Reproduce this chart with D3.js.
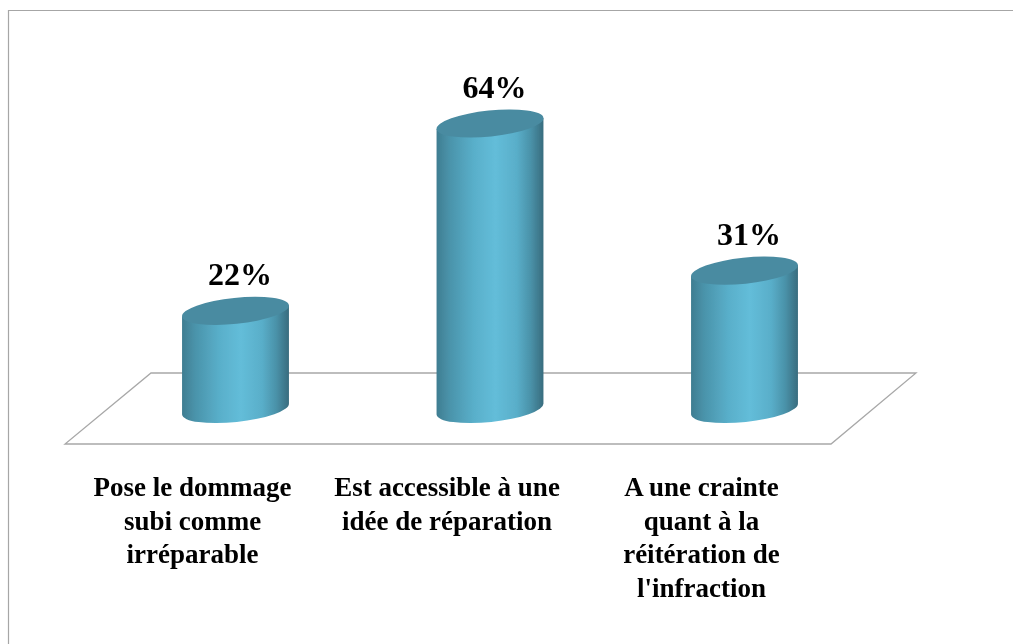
<!DOCTYPE html>
<html><head><meta charset="utf-8">
<script src="https://cdn.jsdelivr.net/npm/d3@7"></script>
<style>html,body{margin:0;background:#fff;overflow:hidden}svg{display:block}text{font-family:"Liberation Serif",serif;font-weight:bold;fill:#050505}</style>
</head><body><svg id="c" width="1013" height="644"></svg>
<script>
const categories = [
  ["Pose le dommage","subi comme","irréparable"],
  ["Est accessible à une","idée de réparation"],
  ["A une crainte","quant à la","réitération de","l'infraction"]
];
const values = [22, 64, 31];
const valueLabels = ["22%", "64%", "31%"];

const W = 1013, H = 644;
const svg = d3.select("#c");
const x = d3.scaleBand().domain(d3.range(values.length)).range([108.25, 871.75]).paddingInner(0.58).paddingOuter(0.29);
const y = d3.scaleLinear().domain([0, 64]).range([409, 123.5]);
const half = x.bandwidth() / 2, ry = 13, rot = -6;
const rad = -rot * Math.PI / 180;
const rxE = half / Math.cos(rad);
const dyTilt = half * Math.tan(rad);

const defs = svg.append("defs");
const grad = defs.append("linearGradient").attr("id", "body");
[[0,"#3f7d91"],[0.12,"#4a93aa"],[0.35,"#59afca"],[0.55,"#63bdd9"],[0.75,"#59aec9"],[0.88,"#4a92a9"],[1,"#386c7e"]]
  .forEach(([o,c]) => grad.append("stop").attr("offset", o).attr("stop-color", c));
defs.append("filter").attr("id", "soft").append("feGaussianBlur").attr("stdDeviation", 0.5);

// frame
svg.append("path").attr("d", `M8.5,${H}V10.5H${W}`).attr("fill", "none").attr("stroke", "#a6a6a6").attr("stroke-width", 1.2);

const g = svg.append("g").attr("filter", "url(#soft)");

// floor
const fl = d3.path();
fl.moveTo(151, 373); fl.lineTo(916, 373); fl.lineTo(831, 444); fl.lineTo(65, 444); fl.closePath();
g.append("path").attr("d", fl.toString()).attr("fill", "#fff").attr("stroke", "#a8a8a8").attr("stroke-width", 1.3);

// cylinders
const bars = g.selectAll("g.bar").data(values).join("g").attr("class", "bar");
bars.append("path")
  .attr("fill", "url(#body)")
  .attr("d", (d, i) => {
    const cx = x(i) + half, t = y(d), b = y(0);
    return `M${cx-half},${t+dyTilt}L${cx-half},${b+dyTilt}A${rxE},${ry} ${rot} 0 0 ${cx+half},${b-dyTilt}L${cx+half},${t-dyTilt}Z`;
  });
bars.append("ellipse")
  .attr("fill", "#4a8ba1")
  .attr("rx", rxE).attr("ry", ry)
  .attr("transform", (d, i) => `translate(${x(i)+half},${y(d)}) rotate(${rot})`);

// value labels
g.selectAll("text.v").data(values).join("text").attr("class", "v")
  .attr("x", (d, i) => x(i) + half + 4.5)
  .attr("y", d => y(d) - 26)
  .attr("text-anchor", "middle").attr("font-size", 32)
  .text((d, i) => valueLabels[i]);

// category labels
const labels = g.selectAll("text.c").data(categories).join("text").attr("class", "c")
  .attr("text-anchor", "middle").attr("font-size", 27);
labels.each(function(lines, i) {
  const cx = x(i) + half - 43;
  d3.select(this).selectAll("tspan").data(lines).join("tspan")
    .attr("x", cx).attr("y", (l, k) => 496 + k * 33.6).text(l => l);
});
</script></body></html>
